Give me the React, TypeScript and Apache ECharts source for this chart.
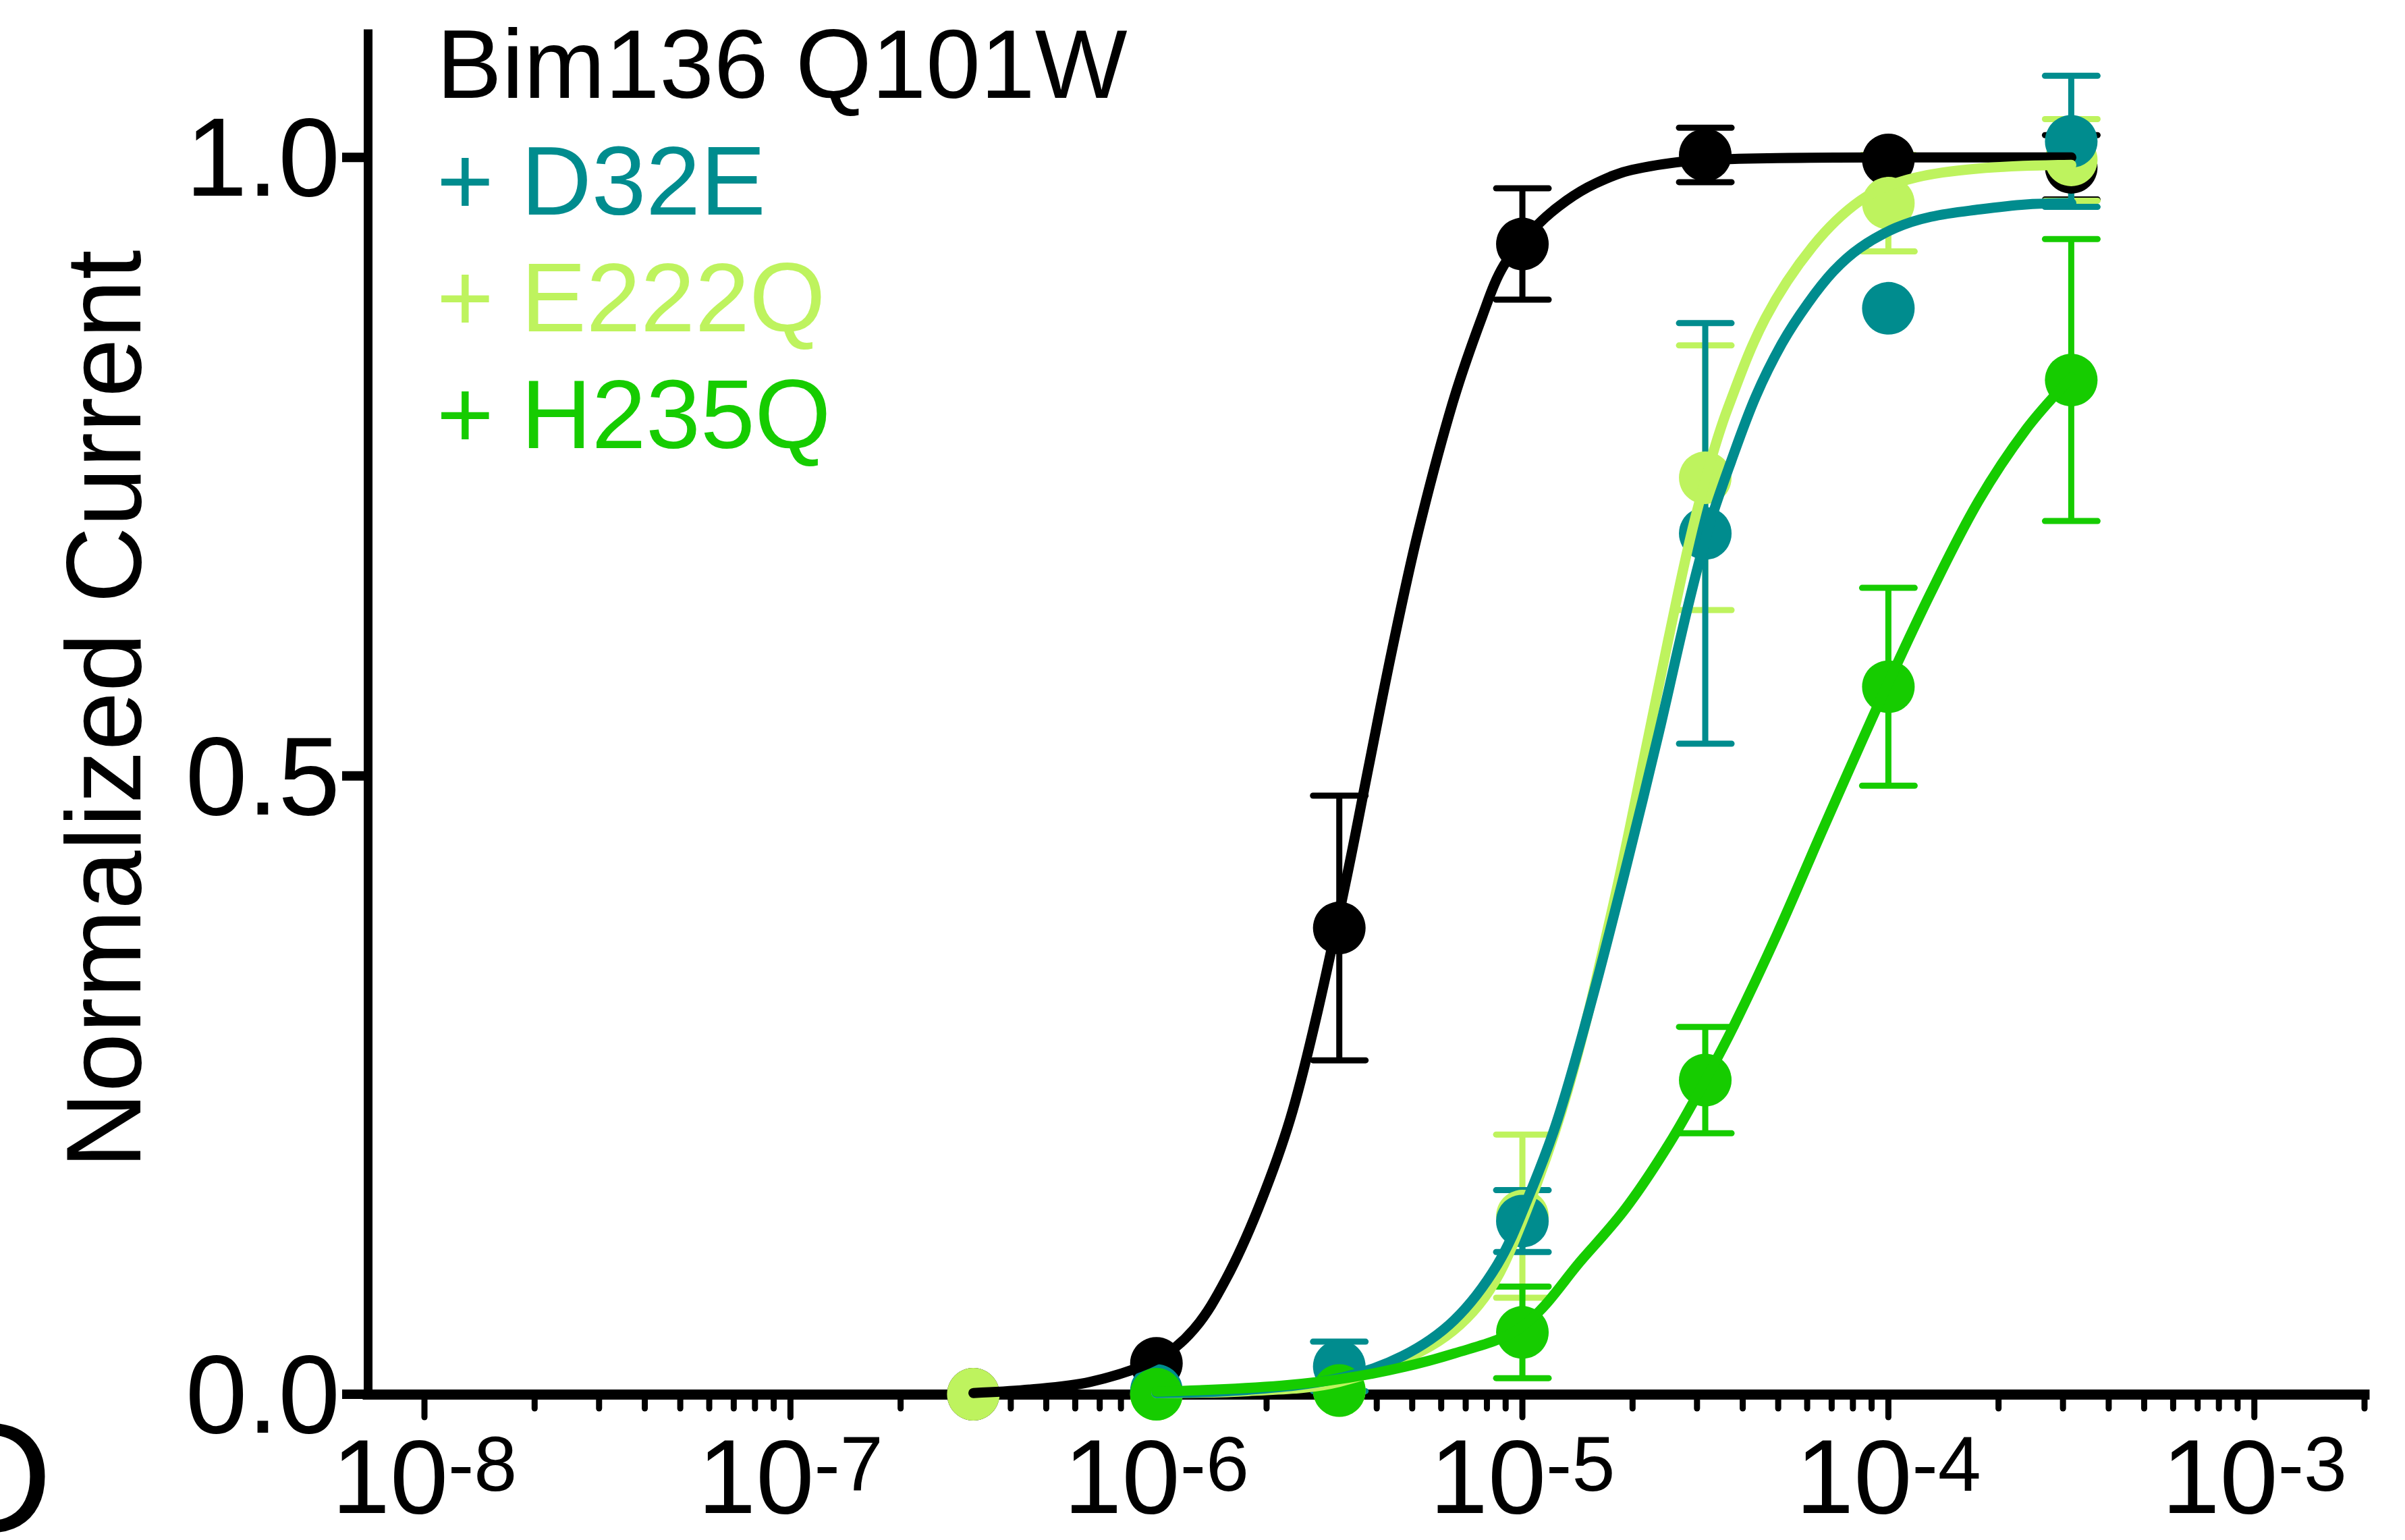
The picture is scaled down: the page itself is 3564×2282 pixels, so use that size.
import React, { useEffect, useRef } from 'react';
import * as echarts from 'echarts';

const FONT = '"Liberation Sans", Arial, Helvetica, sans-serif';

// ---------- data (concentration in M, normalized current) ----------
const concentrations = [3.16e-7, 1e-6, 3.16e-6, 1e-5, 3.16e-5, 1e-4, 3.16e-4];

const q101wMean = [0.0, 0.025, 0.377, 0.93, 1.002, 0.998, 0.992];
const q101wSem = [0, 0, 0.107, 0.045, 0.022, 0, 0.026];

const d32eMean = [null, 0.003, 0.0225, 0.14, 0.696, 0.878, 1.013];
const d32eSem = [null, 0, 0.02, 0.025, 0.17, 0, 0.053];

const e222qMean = [0.0, 0.0, 0.003, 0.144, 0.741, 0.963, 0.998];
const e222qSem = [0, 0, 0, 0.066, 0.107, 0.039, 0.033];

const h235qMean = [null, 0.0, 0.003, 0.05, 0.254, 0.572, 0.82];
const h235qSem = [null, 0, 0, 0.037, 0.043, 0.08, 0.114];

// fitted curves (log10 M, value)
const q101wFitLogX = [-6.5, -6.358, -6.18, -6.0, -5.899, -5.81, -5.722, -5.635, -5.563, -5.48, -5.421, -5.356, -5.285, -5.191, -5.109, -5.05, -4.96, -4.88, -4.8, -4.7, -4.5, -4.0, -3.5];
const q101wFitY = [0.001, 0.0035, 0.01, 0.028, 0.052, 0.093, 0.15, 0.222, 0.305, 0.418, 0.506, 0.602, 0.697, 0.801, 0.872, 0.913, 0.945, 0.965, 0.979, 0.99, 0.998, 1.0, 1.0];

const d32eFitLogX = [-6.0, -5.75, -5.5, -5.327, -5.186, -5.068, -4.987, -4.904, -4.81, -4.716, -4.627, -4.55, -4.492, -4.43, -4.362, -4.29, -4.22, -4.15, -4.077, -3.98, -3.884, -3.75, -3.624, -3.5];
const d32eFitY = [0.001, 0.0036, 0.013, 0.031, 0.06, 0.105, 0.157, 0.222, 0.319, 0.427, 0.535, 0.634, 0.7, 0.754, 0.807, 0.85, 0.882, 0.908, 0.927, 0.943, 0.952, 0.958, 0.962, 0.963];

const e222qFitLogX = [-6.0, -5.75, -5.5, -5.25, -5.104, -5.0, -4.875, -4.75, -4.657, -4.6, -4.543, -4.49, -4.439, -4.336, -4.207, -4.077, -3.948, -3.754, -3.5];
const e222qFitY = [0.001, 0.0025, 0.01, 0.039, 0.078, 0.14, 0.247, 0.398, 0.53, 0.612, 0.69, 0.75, 0.797, 0.87, 0.928, 0.965, 0.982, 0.991, 0.994];

const h235qFitLogX = [-6.0, -5.657, -5.422, -5.186, -5.0, -4.834, -4.716, -4.598, -4.5, -4.422, -4.304, -4.186, -4.08, -4.013, -3.884, -3.754, -3.624, -3.5];
const h235qFitY = [0.002, 0.007, 0.016, 0.033, 0.055, 0.11, 0.151, 0.203, 0.254, 0.298, 0.372, 0.452, 0.523, 0.567, 0.648, 0.722, 0.78, 0.822];

// axes
const xMin = 7e-9;
const xMax = 2e-3;
const yMin = 0;
const yMax = 1.1;
const yTickValues = [0, 0.5, 1.0];
const xMajorDecades = [-8, -7, -6, -5, -4, -3];
const xMinorDecades = [-8, -7, -6, -5, -4];
const xMinorMultipliers = [2, 3, 4, 5, 6, 7, 8, 9];
const xExtraMinorTicks = [2e-3];

const legendTexts = ['Bim136 Q101W', '+ D32E', '+ E222Q', '+ H235Q'];
const yAxisTitle = 'Normalized Current';
const panelLabel = 'D';

const COLORS = {
  q101w: '#000000',
  d32e: '#008C8E',
  e222q: '#BEF35E',
  h235q: '#16CC00',
};

export default function App() {
  const ref = useRef<HTMLDivElement>(null);

  useEffect(() => {
    if (!ref.current) return;
    const chart = echarts.init(ref.current, null, { renderer: 'svg' });

    const points = (means: (number | null)[]) =>
      concentrations
        .map((c, i) => (means[i] == null ? null : [c, means[i] as number]))
        .filter((d) => d !== null) as number[][];

    const errData = (means: (number | null)[], sems: (number | null)[]) =>
      concentrations
        .map((c, i) => {
          const m = means[i];
          const s = sems[i];
          if (m == null || s == null || s <= 0) return null;
          return [c, m - s, m + s];
        })
        .filter((d) => d !== null) as number[][];

    const fit = (lx: number[], ys: number[]) => lx.map((x, i) => [Math.pow(10, x), ys[i]]);

    const errorBars = (name: string, color: string, data: number[][]) => ({
      type: 'custom',
      name,
      data,
      clip: false,
      silent: true,
      encode: { x: 0, y: [1, 2] },
      renderItem: (params: any, api: any) => {
        const x = api.value(0);
        const lo = api.coord([x, api.value(1)]);
        const hi = api.coord([x, api.value(2)]);
        const w = 39;
        const capStyle = { stroke: color, lineWidth: 9, lineCap: 'round' };
        return {
          type: 'group',
          children: [
            { type: 'line', shape: { x1: lo[0], y1: lo[1], x2: hi[0], y2: hi[1] }, style: { stroke: color, lineWidth: 9 } },
            { type: 'line', shape: { x1: hi[0] - w, y1: hi[1], x2: hi[0] + w, y2: hi[1] }, style: capStyle },
            { type: 'line', shape: { x1: lo[0] - w, y1: lo[1], x2: lo[0] + w, y2: lo[1] }, style: capStyle },
          ],
        };
      },
    });

    const dots = (name: string, color: string, data: number[][]) => ({
      type: 'scatter',
      name,
      data,
      symbol: 'circle',
      symbolSize: 78,
      clip: false,
      silent: true,
      itemStyle: { color, opacity: 1 },
    });

    const curve = (name: string, color: string, data: number[][]) => ({
      type: 'line',
      name,
      data,
      showSymbol: false,
      symbol: 'none',
      smooth: 0.35,
      clip: false,
      silent: true,
      z: 3,
      lineStyle: { color, width: 15, cap: 'round', join: 'round' },
    });

    const xTickData: number[][] = [];
    xMajorDecades.forEach((d) => xTickData.push([Math.pow(10, d), 1]));
    xMinorDecades.forEach((d) =>
      xMinorMultipliers.forEach((m) => xTickData.push([m * Math.pow(10, d), 0]))
    );
    xExtraMinorTicks.forEach((v) => xTickData.push([v, 0]));

    const option: any = {
      animation: false,
      backgroundColor: '#ffffff',
      textStyle: { fontFamily: FONT },
      grid: {
        left: 545,
        right: 60,
        top: 50,
        bottom: 216,
        containLabel: false,
        outerBoundsMode: 'none',
      },
      xAxis: {
        type: 'log',
        logBase: 10,
        min: xMin,
        max: xMax,
        axisLine: { show: true, onZero: false, lineStyle: { color: '#000', width: 15, cap: 'square' } },
        axisTick: { show: false },
        minorTick: { show: false },
        splitLine: { show: false },
        axisLabel: {
          margin: 45,
          showMinLabel: true,
          showMaxLabel: true,
          formatter: (v: number) => {
            const l = Math.log10(v);
            const e = Math.round(l);
            if (Math.abs(l - e) > 1e-6) return '';
            return `{b|10}{s|${e}}`;
          },
          rich: {
            b: { fontSize: 155, lineHeight: 155, color: '#000', fontFamily: FONT },
            s: { fontSize: 115, lineHeight: 80, verticalAlign: 'top', color: '#000', fontFamily: FONT },
          },
        },
      },
      yAxis: {
        type: 'value',
        min: yMin,
        max: yMax,
        interval: 0.5,
        axisLine: { show: true, onZero: false, lineStyle: { color: '#000', width: 13, cap: 'square' } },
        axisTick: { show: false },
        splitLine: { show: false },
        axisLabel: {
          margin: 41,
          fontSize: 165,
          color: '#000',
          fontFamily: FONT,
          formatter: (v: number) =>
            yTickValues.some((t) => Math.abs(t - v) < 1e-9) ? v.toFixed(1) : '',
        },
      },
      series: [
        {
          type: 'custom',
          name: 'xTicks',
          data: xTickData,
          clip: false,
          silent: true,
          encode: { x: 0 },
          renderItem: (params: any, api: any) => {
            const p = api.coord([api.value(0), yMin]);
            const len = api.value(1) === 1 ? 34 : 21;
            return {
              type: 'line',
              shape: { x1: p[0], y1: p[1], x2: p[0], y2: p[1] + len },
              style: { stroke: '#000', lineWidth: 9, lineCap: 'round' },
            };
          },
        },
        {
          type: 'custom',
          name: 'yTicks',
          data: yTickValues.map((v) => [xMin, v]),
          clip: false,
          silent: true,
          encode: { x: 0, y: 1 },
          renderItem: (params: any, api: any) => {
            const p = api.coord([api.value(0), api.value(1)]);
            return {
              type: 'line',
              shape: { x1: p[0] - 38, y1: p[1], x2: p[0], y2: p[1] },
              style: { stroke: '#000', lineWidth: 14 },
            };
          },
        },
        errorBars('Q101W err', COLORS.q101w, errData(q101wMean, q101wSem)),
        dots('Bim136 Q101W', COLORS.q101w, points(q101wMean)),
        errorBars('E222Q err', COLORS.e222q, errData(e222qMean, e222qSem)),
        dots('+ E222Q', COLORS.e222q, points(e222qMean)),
        errorBars('D32E err', COLORS.d32e, errData(d32eMean, d32eSem)),
        dots('+ D32E', COLORS.d32e, points(d32eMean)),
        errorBars('H235Q err', COLORS.h235q, errData(h235qMean, h235qSem)),
        dots('+ H235Q', COLORS.h235q, points(h235qMean)),
        curve('Q101W fit', COLORS.q101w, fit(q101wFitLogX, q101wFitY)),
        curve('E222Q fit', COLORS.e222q, fit(e222qFitLogX, e222qFitY)),
        curve('D32E fit', COLORS.d32e, fit(d32eFitLogX, d32eFitY)),
        curve('H235Q fit', COLORS.h235q, fit(h235qFitLogX, h235qFitY)),
      ],
      graphic: [
        ...legendTexts.map((t, i) => ({
          type: 'text',
          x: 647,
          y: 95 + i * 173,
          z: 10,
          style: {
            text: t,
            fill: [COLORS.q101w, COLORS.d32e, COLORS.e222q, COLORS.h235q][i],
            font: `145px ${FONT}`,
            textAlign: 'left',
            textVerticalAlign: 'middle',
          },
        })),
        {
          type: 'text',
          x: 153,
          y: 1051,
          rotation: Math.PI / 2,
          z: 10,
          style: {
            text: yAxisTitle,
            fill: '#000',
            font: `157px ${FONT}`,
            textAlign: 'center',
            textVerticalAlign: 'middle',
          },
        },
        {
          type: 'text',
          x: -92,
          y: 2189,
          z: 10,
          style: {
            text: panelLabel,
            fill: '#000',
            font: `235px ${FONT}`,
            textAlign: 'left',
            textVerticalAlign: 'middle',
          },
        },
      ],
    };

    chart.setOption(option);
    return () => chart.dispose();
  }, []);

  return (
    <div
      ref={ref}
      style={{ position: 'fixed', left: 0, top: 0, width: 3564, height: 2282, background: '#fff' }}
    />
  );
}
